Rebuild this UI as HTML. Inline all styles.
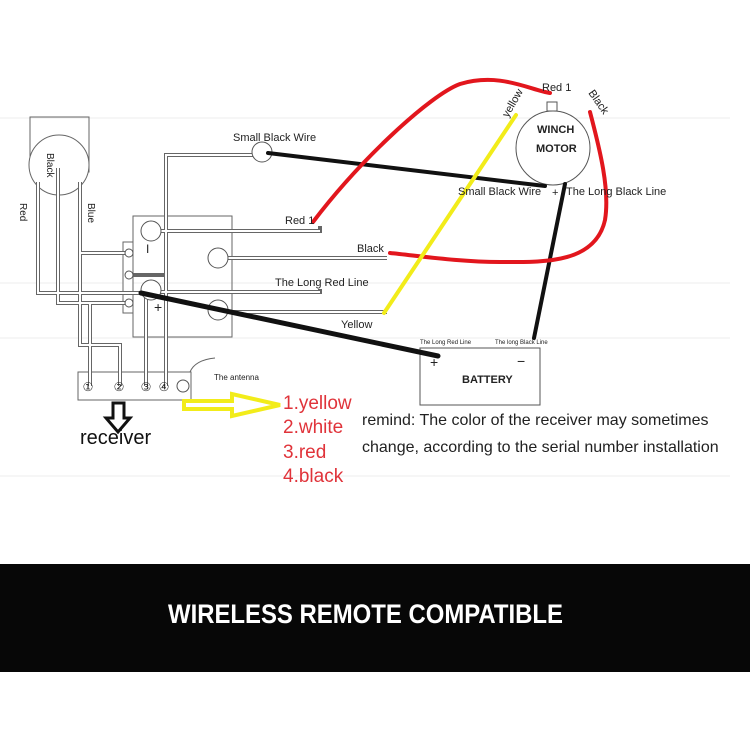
<!DOCTYPE html>
<html><head><meta charset="utf-8"><style>
html,body{margin:0;padding:0;background:#fff}
svg{display:block}
text{font-family:"Liberation Sans",sans-serif}
</style></head><body>
<svg width="750" height="750" viewBox="0 0 750 750" xmlns="http://www.w3.org/2000/svg">
<rect width="750" height="750" fill="#fff"/>
<!-- faint grid lines -->
<g stroke="#eee" stroke-width="1">
<line x1="0" y1="118" x2="730" y2="118"/>
<line x1="0" y1="283" x2="730" y2="283"/>
<line x1="0" y1="338" x2="730" y2="338"/>
<line x1="0" y1="476" x2="730" y2="476"/>
</g>
<!-- remote -->
<g fill="none" stroke="#666" stroke-width="1">
<rect x="30" y="117" width="59" height="55"/>
<circle cx="59" cy="165" r="30" fill="#fff"/>
<rect x="133" y="216" width="99" height="121"/>
<rect x="123" y="242" width="10" height="71" fill="#fff"/>
<rect x="78" y="372" width="113" height="28"/>
<path d="M190 372 Q195 360 215 358"/>
</g>
<!-- double wires -->
<g fill="none" stroke-linejoin="miter">
<g stroke="#666" stroke-width="4">
<path d="M38 182 V293 H145"/>
<path d="M58 168 V303 H125"/>
<path d="M90 303 V386"/>
<path d="M80 182 V345 H120 V386"/>
<path d="M80 253 H125"/>
<path d="M146 292 V386"/>
<path d="M166 386 V155 H258"/>
<path d="M133 275 H166"/>
<path d="M151 231 H320 V226 M151 292 H320 V289"/>
<path d="M218 258 H387 M218 312 H387"/>
</g>
<g stroke="#fff" stroke-width="2">
<path d="M38 182 V293 H145"/>
<path d="M58 168 V303 H125"/>
<path d="M90 303 V386"/>
<path d="M80 182 V345 H120 V386"/>
<path d="M80 253 H125"/>
<path d="M146 292 V386"/>
<path d="M166 386 V155 H258"/>
<path d="M151 231 H320 M151 292 H320"/>
<path d="M218 258 H387 M218 312 H387"/>
</g>
</g>
<g fill="#fff" stroke="#555" stroke-width="1">
<circle cx="129" cy="253" r="4"/><circle cx="129" cy="275" r="4"/><circle cx="129" cy="303" r="4"/>
<circle cx="151" cy="231" r="10"/><circle cx="218" cy="258" r="10"/>
<circle cx="151" cy="290" r="10"/><circle cx="218" cy="310" r="10"/>
<circle cx="262" cy="152" r="10"/>
<circle cx="183" cy="386" r="6"/>
<circle cx="553" cy="148" r="37"/>
<rect x="547" y="102" width="10" height="9"/>
<rect x="420" y="348" width="120" height="57"/>
</g>
<g font-size="12" text-anchor="middle" fill="#222">
<text x="88" y="391">①</text><text x="119" y="391">②</text><text x="146" y="391">③</text><text x="164" y="391">④</text>
</g>
<!-- colored wires -->
<g fill="none" stroke-linecap="round" stroke-width="4">
<path d="M268 153 L545 186" stroke="#111"/>
<path d="M565 184 L534 338" stroke="#111"/>
<path d="M141 293 L438 356" stroke="#111" stroke-width="5"/>
<path d="M313 222 C360 160 430 95 460 84 C500 72 530 90 550 93" stroke="#e2161d"/>
<path d="M590 112 C600 150 610 190 605 220 C595 265 540 262 500 262 C460 262 420 256 390 253" stroke="#e2161d"/>
<path d="M516 115 L384 313" stroke="#f2ec1a"/>
</g>
<!-- labels -->
<g font-size="11" fill="#222">
<text x="233" y="141">Small Black Wire</text>
<text x="285" y="224">Red 1</text>
<text x="357" y="252">Black</text>
<text x="275" y="286">The Long Red Line</text>
<text x="341" y="328">Yellow</text>
<text x="458" y="195">Small Black Wire</text>
<text x="552" y="196">+</text>
<text x="566" y="195">The Long Black Line</text>
<text x="542" y="91">Red 1</text>
<text transform="translate(508,118) rotate(-60)">yellow</text>
<text transform="translate(588,93) rotate(55)">Black</text>
<text x="537" y="133" font-size="11" font-weight="bold">WINCH</text>
<text x="536" y="152" font-size="11" font-weight="bold">MOTOR</text>
<text x="462" y="383" font-weight="bold">BATTERY</text>
<text x="420" y="344" font-size="6">The Long Red Line</text>
<text x="495" y="344" font-size="6">The long Black Line</text>
<text x="430" y="367" font-size="14">+</text>
<text x="517" y="366" font-size="14">−</text>
<text x="214" y="380" font-size="8">The antenna</text>
<text x="146" y="253" font-size="12">I</text>
<text x="154" y="312" font-size="14">+</text>
<text transform="translate(47,153) rotate(90)" font-size="10">Black</text>
<text transform="translate(20,203) rotate(90)" font-size="10">Red</text>
<text transform="translate(88,203) rotate(90)" font-size="10">Blue</text>
</g>
<!-- yellow arrow -->
<path d="M184 401 H232 V394 L280 405 L232 416 V409 H184 Z" fill="#fff" stroke="#f2ec1a" stroke-width="4"/>
<!-- down arrow -->
<path d="M113 403 H124 V418 H130 L118 432 L106 418 H113 Z" fill="#fff" stroke="#111" stroke-width="3"/>
<text x="80" y="444" font-size="20" fill="#111">receiver</text>
<g font-size="19" fill="#e0333a">
<text x="283" y="409">1.yellow</text>
<text x="283" y="433">2.white</text>
<text x="283" y="458">3.red</text>
<text x="283" y="482">4.black</text>
</g>
<g font-size="16" fill="#222">
<text x="362" y="425">remind: The color of the receiver may sometimes</text>
<text x="362" y="452">change, according to the serial number installation</text>
</g>
<rect x="0" y="564" width="750" height="108" fill="#070707"/>
<text x="168" y="623" font-size="27" font-weight="bold" fill="#fff" font-family="Liberation Sans Narrow, Liberation Sans, sans-serif" textLength="395" lengthAdjust="spacingAndGlyphs">WIRELESS REMOTE COMPATIBLE</text>
</svg>
</body></html>
